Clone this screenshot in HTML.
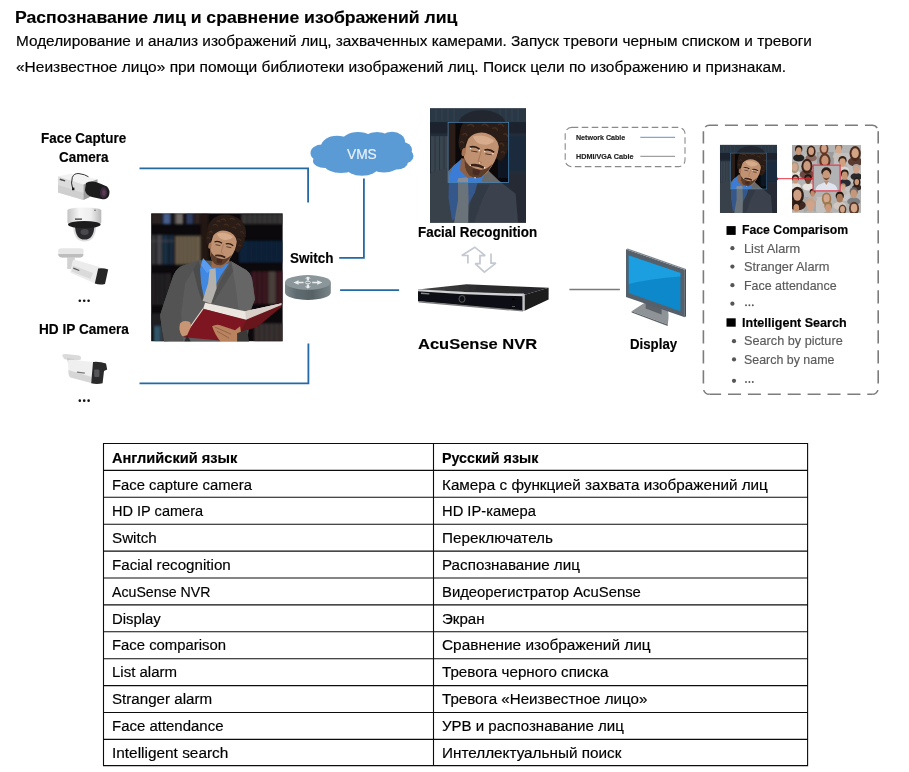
<!DOCTYPE html>
<html lang="ru"><head><meta charset="utf-8"><title>Face recognition</title>
<style>
html,body{margin:0;padding:0;background:#fff;}
body{width:909px;height:772px;position:relative;overflow:hidden;font-family:"Liberation Sans",sans-serif;}
.t{position:absolute;white-space:nowrap;line-height:normal;transform-origin:0 50%;display:block;-webkit-text-stroke:0.16px currentColor;}
svg{position:absolute;left:0;top:0;}
</style></head><body>
<svg width="909" height="772" viewBox="0 0 909 772">
<defs>
<filter id="b0" x="-10%" y="-10%" width="120%" height="120%"><feGaussianBlur stdDeviation="0.35"/></filter>
<filter id="b1" x="-5%" y="-5%" width="110%" height="110%"><feGaussianBlur stdDeviation="0.6"/></filter>
<filter id="b2" x="-5%" y="-5%" width="110%" height="110%"><feGaussianBlur stdDeviation="1.2"/></filter>
<filter id="b3" x="-5%" y="-5%" width="110%" height="110%"><feGaussianBlur stdDeviation="2"/></filter>
<g id="head" transform="rotate(11 50 44)">
<!-- hair -->
<path d="M26.5 30 Q25 12 40 5 Q52 0.5 64 5 Q79 12 77.5 30 Q76 40 52 41 Q28 40 26.5 30 Z" fill="#2a1a12"/>
<path d="M27 28 Q25 40 31 47 L35 46 Q33 36 36 30 Z" fill="#2a1a12"/>
<path d="M77 28 Q79 40 72 49 L67 47 Q69 38 67 30 Z" fill="#2a1a12"/>
<g fill="none" stroke="#4a3224" stroke-width="1.6" stroke-linecap="round" opacity="0.8">
<path d="M33 20 q3 -3 6 0 M42 11 q3 -3 6 0 M53 8 q3 -3 6 0 M63 13 q3 -2 5 1 M70 22 q2 -2 4 1 M30 30 q2 -3 4 0 M47 17 q3 -3 6 0 M58 18 q3 -2 5 1 M37 14 q2 -2 4 0 M68 32 q2 -2 4 1 M71 40 q1 -2 3 0 M29 38 q1 -2 3 0"/>
</g>
<!-- face -->
<path d="M36 33 Q41 24 52 24 Q64 25 67.5 35 Q68.5 46 64 56 Q59 69 50 70.5 Q41 70 36.5 58 Q33 46 36 33 Z" fill="#c09272"/>
<path d="M40 30 Q50 24.5 62 30 Q58 36 50 36 Q44 36 40 30 Z" fill="#d6ac8c"/>
<ellipse cx="34" cy="47" rx="2" ry="4.2" fill="#a87454"/>
<!-- beard / stubble -->
<path d="M35.6 52 Q37 64 44 69 Q50 72 56 68 Q62 62 64.5 53 Q60 60 54 61 Q44 62 38 56 Z" fill="#5c3c2a"/>
<path d="M43 57.5 Q50 54.5 57 57.5 L56.4 59.6 Q50 57.6 43.6 59.6 Z" fill="#3a2018"/>
<path d="M46 62 Q50 61 54 62 L53 67 Q50 68 47 67 Z" fill="#4a2c20"/>
<!-- brows/eyes -->
<path d="M39 41 Q44 38.5 49 41" stroke="#2e1c12" stroke-width="1.7" fill="none"/>
<path d="M54 41 Q59 38.5 64 41.5" stroke="#2e1c12" stroke-width="1.7" fill="none"/>
<path d="M41 44.4 L47.5 44.4 M55.5 44.4 L62 44.4" stroke="#4a2e22" stroke-width="1" fill="none"/>
<path d="M51 42 L50 53 L53.6 54" stroke="#a8785a" stroke-width="1.1" fill="none"/>
</g>
<!-- face recognition image (symbol reused) -->
<symbol id="faceimg" viewBox="0 0 96 114.6" preserveAspectRatio="none">
<clipPath id="cpF"><rect x="0" y="0" width="96" height="114.6"/></clipPath>
<clipPath id="cpBox"><rect x="18.1" y="14.1" width="60.6" height="60.3"/></clipPath>
<g clip-path="url(#cpF)">
<rect width="96" height="114.6" fill="#232d39"/>
<g filter="url(#b1)">
<rect x="0" y="0" width="96" height="14" fill="#2b3744"/>
<rect x="0" y="14" width="96" height="11" fill="#1a232e"/>
<rect x="1" y="28" width="17" height="36" fill="#39444f"/>
<g stroke="#2a333e" stroke-width="1"><path d="M5 28V64M9.5 28V64M14 28V64"/></g>
<rect x="79" y="28" width="17" height="34" fill="#1a2a3e"/>
<rect x="79" y="66" width="17" height="49" fill="#262c34"/>
<g stroke="#344250" stroke-width="1"><path d="M6 0V13M12 0V13M18 0V13M24 0V13M70 0V13M76 0V13M82 0V13M88 0V13"/></g>
<!-- dimmed hair top -->
<ellipse cx="52" cy="17" rx="24" ry="15" fill="#23272d"/>
<!-- suit dimmed -->
<path d="M0 65 L19 59 L30 52 L58 60 L69 72.5 L85.6 85.6 L88 115 L0 115 Z" fill="#3b434d"/>
<path d="M0 65 L19 59 L22 80 L20 115 L0 115 Z" fill="#373f49"/>
<path d="M46 76 L40 96 L36 115 L44 115 L52 92 L60 76 Z" fill="#333b45"/>
<!-- shirt dimmed -->
<path d="M19 62 L30 56 L50 66 L45 84 L33 106 L22 112 L18.5 90 Z" fill="#35588c"/>
<!-- tie dimmed -->
<path d="M28 72 L38 71 L38.6 90 L38.2 115 L24 115 L28 92 Z" fill="#6a727a"/>
</g>
<!-- undimmed inside box -->
<g clip-path="url(#cpBox)">
<rect x="18.1" y="14.1" width="60.6" height="60.3" fill="#0a0808"/>
<g filter="url(#b1)">
<rect x="18" y="14" width="7.5" height="48" fill="#2c1d16"/>
<rect x="68" y="44" width="11" height="26" fill="#0b1320"/>
<!-- suit -->
<path d="M18 63 L24 57 L32 52 L56 60 L69 72.5 L80 80 L18 80 Z" fill="#6a6a6a"/>
<!-- shirt -->
<path d="M19 67 L23 58 L31 51 L40 58 L55 63 L50 78 L19 78 Z" fill="#3b7cd6"/>
<path d="M28 70 L38 69 L38 78 L27 78 Z" fill="#8a8e94"/>
<!-- neck -->
<path d="M31 50 L30 62 L38 70 L50 66 L56 52 Z" fill="#8e6044"/>
<use href="#head"/>
<g transform="rotate(11 50 44)"><g fill="#fff" opacity="0.9"><circle cx="40" cy="42" r="0.7"/><circle cx="49" cy="42.5" r="0.7"/><circle cx="54.5" cy="42.5" r="0.7"/><circle cx="63" cy="43" r="0.7"/><circle cx="43" cy="58.6" r="0.7"/><circle cx="57.6" cy="58.4" r="0.7"/><circle cx="51.6" cy="54.6" r="0.6"/><circle cx="50" cy="70" r="0.7"/></g>
</g>
</g>
</g>
<rect x="18.1" y="14.1" width="60.6" height="60.3" fill="none" stroke="#4f8fc4" stroke-width="0.7"/>
</g>
</symbol>

</defs>
<!-- network lines -->
<g fill="none" stroke="#2469a6" stroke-width="1.8">
<path d="M139.5 168.3H308.1V202.5"/>
<path d="M139.5 383.3H308.4V343.6"/>
<path d="M363.9 178.4V257.9H339.2"/>
<path d="M340.1 290.2H399.1"/>
</g>
<path d="M569.4 289.5H619.9" stroke="#7a7a7a" stroke-width="1.6" fill="none"/>
<!-- cloud -->
<g fill="#5b9bd5">
<ellipse cx="322" cy="153" rx="11.5" ry="8.5"/>
<ellipse cx="325" cy="161" rx="12" ry="7"/>
<ellipse cx="337" cy="146.6" rx="16" ry="10.8"/>
<ellipse cx="358" cy="142.6" rx="17" ry="10.5"/>
<ellipse cx="377" cy="141.4" rx="15" ry="9.5"/>
<ellipse cx="392" cy="141.8" rx="13" ry="10"/>
<ellipse cx="402" cy="150" rx="10" ry="8"/>
<ellipse cx="404" cy="156" rx="9.5" ry="7.5"/>
<ellipse cx="397" cy="162" rx="11" ry="7.5"/>
<ellipse cx="384" cy="166" rx="14" ry="6.5"/>
<ellipse cx="362" cy="167.2" rx="16" ry="8.6"/>
<ellipse cx="341" cy="165.5" rx="16" ry="7.5"/>
<ellipse cx="362" cy="155" rx="40" ry="12"/>
</g>
<!-- legend box -->
<rect x="565.2" y="127.4" width="119.8" height="39.2" rx="6.5" fill="none" stroke="#8a8a8a" stroke-width="1.1" stroke-dasharray="6.6 3.4"/>
<path d="M640.3 137.3H675.1" stroke="#3f7fbf" stroke-width="0.85"/>
<path d="M640.3 156.3H675.1" stroke="#7a7a7a" stroke-width="0.9"/>
<!-- right dashed box -->
<g fill="none" stroke="#7c7c7c" stroke-width="1.6">
<path d="M703.4 131.3A6 6 0 0 1 709.4 125.3H872.2A6 6 0 0 1 878.2 131.3" stroke-dasharray="13 7" stroke-dashoffset="15.28"/>
<path d="M703.4 131.3V388.3A6 6 0 0 0 709.4 394.3" stroke-dasharray="13.2 6.8" stroke-dashoffset="1.1"/>
<path d="M878.2 131.3V388.3A6 6 0 0 1 872.2 394.3" stroke-dasharray="13.2 6.8" stroke-dashoffset="1.1"/>
<path d="M709.4 394.3H872.2" stroke-dasharray="13 6.9" stroke-dashoffset="1.3"/>
</g>
<!-- bullets -->
<g fill="#000"><rect x="726.5" y="226.1" width="9.2" height="8.8"/><rect x="726.5" y="318.3" width="9.2" height="8.4"/></g>
<g fill="#555">
<circle cx="732.4" cy="248.2" r="2.1"/><circle cx="732.4" cy="266.6" r="2.1"/><circle cx="732.4" cy="285.2" r="2.1"/><circle cx="732.4" cy="303.7" r="2.1"/>
<circle cx="734" cy="341.2" r="2.1"/><circle cx="734" cy="359.4" r="2.1"/><circle cx="734" cy="380.8" r="2.1"/>
<circle cx="746" cy="305.2" r="0.95"/><circle cx="749.4" cy="305.2" r="0.95"/><circle cx="752.8" cy="305.2" r="0.95"/>
<circle cx="746" cy="382" r="0.95"/><circle cx="749.4" cy="382" r="0.95"/><circle cx="752.8" cy="382" r="0.95"/>
</g>
<g fill="#111">
<circle cx="79.8" cy="300.7" r="1.3"/><circle cx="84.2" cy="300.7" r="1.3"/><circle cx="88.6" cy="300.7" r="1.3"/>
<circle cx="79.8" cy="400.65" r="1.3"/><circle cx="84.2" cy="400.65" r="1.3"/><circle cx="88.6" cy="400.65" r="1.3"/>
</g>
<!-- main photo: man reading book -->
<clipPath id="cpA"><rect x="0" y="0" width="131.7" height="128.2"/></clipPath>
<g transform="translate(151.1,213.2)" clip-path="url(#cpA)">
<rect x="0" y="0" width="131.7" height="128.2" fill="#0b090b"/>
<g filter="url(#b2)" opacity="0.78">
<!-- top row books -->
<rect x="0" y="0" width="11" height="11" fill="#352c2c"/>
<rect x="12" y="0" width="7" height="11" fill="#5676b0"/>
<rect x="19" y="0" width="5" height="11" fill="#1c1a22"/>
<rect x="24.5" y="0" width="7.5" height="11" fill="#8a837e"/>
<rect x="35" y="0" width="7" height="11" fill="#384a74"/>
<rect x="43" y="0" width="6" height="11" fill="#3a2a26"/>
<rect x="90" y="0.5" width="42" height="10.5" fill="#454242"/>
<g stroke="#2a2828" stroke-width="0.8"><path d="M96 0V11M101 0V11M106 0V11M111 0V11M116 0V11M121 0V11M126 0V11"/></g>
<!-- row 2 left -->
<rect x="0" y="21.5" width="4.5" height="30" fill="#44444a"/>
<rect x="5.5" y="21.5" width="5.5" height="30" fill="#55555c"/>
<rect x="11.5" y="21.5" width="5.5" height="30" fill="#1b3a52"/>
<rect x="17.5" y="21.5" width="5.5" height="30" fill="#1a3048"/>
<rect x="24" y="22.5" width="25.5" height="29" fill="#85755c"/>
<g stroke="#5e5242" stroke-width="0.9"><path d="M28 22V52M32 22V52M36 22V52M40 22V52M44 22V52"/></g>
<rect x="0" y="27" width="23" height="1.6" fill="#6a6a70" opacity="0.5"/>
<!-- divider -->
<rect x="49.5" y="0" width="8" height="60" fill="#2a1b15"/>
<!-- row 2 right navy -->
<rect x="88" y="27.5" width="44" height="22" fill="#0f2b4a"/>
<g stroke="#08182c" stroke-width="0.8"><path d="M98 27V50M103 27V50M108 27V50M113 27V50M118 27V50M123 27V50M128 27V50"/></g>
<!-- row 3 -->
<rect x="0" y="60" width="20" height="32" fill="#2a282c"/>
<g stroke="#16151a" stroke-width="0.9"><path d="M4 60V92M8.5 60V92M13 60V92"/></g>
<rect x="100" y="58" width="32" height="33" fill="#481a28"/>
<g stroke="#2a0e18" stroke-width="1"><path d="M106 58V91M111 58V91M116 58V91M126 58V91"/></g>
<rect x="117.5" y="58" width="7" height="33" fill="#5c5048"/>
<!-- row 4 -->
<rect x="0" y="100" width="16" height="13" fill="#26262a"/>
<rect x="2.5" y="113" width="7" height="16" fill="#3c6c84"/>
<rect x="10" y="113" width="6" height="16" fill="#4a4648"/>
<rect x="103" y="110" width="29" height="19" fill="#463c3c"/>
<g stroke="#2a2424" stroke-width="0.9"><path d="M108 110V129M113 110V129M118 110V129M123 110V129M128 110V129"/></g>
</g>
<g filter="url(#b1)">
<!-- suit -->
<path d="M48 47 L30 53 Q24 56 21 66 L12.5 91 L9 102 L11 116 L13.5 129 L96 129 L100 96 L103.8 86 L101 66 Q99 58 92 55 L80 48 Z" fill="#5c5c5c"/>
<path d="M48 47 L30 53 Q24 56 21 66 L12.5 91 L9 102 L11 116 L13.5 129 L32 129 L30 100 L34 70 Z" fill="#525252"/>
<path d="M80 48 L92 55 Q99 58 101 66 L103.8 86 L100 96 L88 100 L84 70 Z" fill="#666666"/>
<!-- lapel shadows -->
<path d="M48 47 L42 56 L47 76 L51 88 L54 82 L50 60 Z" fill="#4c4c4c"/>
<path d="M80 48 L82 58 L72 74 L62 90 L60 88 L68 70 Z" fill="#515151"/>
<!-- shirt -->
<path d="M52 45 L49 56 L50 70 L53 86 L60 80 L70 62 L78 50 L70 52 L60 54 Z" fill="#3f88e2"/>
<path d="M52 45 L50 52 L56 60 L61 55 Z" fill="#5a9cf0"/>
<!-- tie -->
<path d="M58.5 56 L64.5 55 L65.5 75 L60 90.5 L51.5 87.5 L57 70 Z" fill="#b4b0ac"/>
<!-- neck -->
<path d="M62 42 L60 54 L70 55 L78 48 L80 40 Z" fill="#9a6a4c"/>
<use href="#head" transform="translate(33,-1.2) scale(0.765)"/>
<!-- book pages -->
<path d="M54 89.5 L94 98 L130.5 90 L130 92.5 L95 107 L52 95.5 Z" fill="#ece6e0"/>
<path d="M94 98 L130.5 90 L130 92.5 L95 107 Z" fill="#d8d0c8"/>
<!-- book cover -->
<path d="M52 95.5 L95 106.5 L88 129 L33 124 L35 119.5 Z" fill="#7e1821"/>
<path d="M95 106.5 L131 91.5 L130 94 L106 114 L89 119 Z" fill="#68131a"/>
<path d="M52 95.5 L35 119.5 L33.5 122" stroke="#e8dcd4" stroke-width="1.1" fill="none"/>
<!-- hands -->
<path d="M29 110 Q33 106 39 109 L40 113 L36 122 L31 123 Q27 117 29 110 Z" fill="#c99674"/>
<path d="M61 113 Q66 110 72 113 L84 117 L89 113 L90 120 L86 129 L70 129 Q64 122 61 113 Z" fill="#b9835f"/>
<path d="M64 114 L80 121 M66 118 L78 125" stroke="#8a5a40" stroke-width="0.8" fill="none"/>
<path d="M36 122 L33 129 L40 129 Z" fill="#2a2a2a"/>
<path d="M86 120 L96 116 L98 129 L86 129 Z" fill="#3a3838"/>
</g>
</g>

<clipPath id="cpC"><rect x="0" y="0" width="69.2" height="68"/></clipPath>
<g transform="translate(791.9,144.9)" clip-path="url(#cpC)">
<rect width="69.2" height="68" fill="#b4b4b4"/>
<g filter="url(#b1)">
<rect x="0" y="0" width="10" height="12" fill="#a8a8a8"/>
<rect x="25" y="7" width="17" height="12" fill="#9c9c9c"/>
<rect x="5" y="10" width="16" height="16" fill="#bcbcbc"/>
<rect x="42" y="8" width="16" height="12" fill="#c0c0c0"/>
<rect x="8" y="25" width="14" height="10" fill="#a4a4a4"/>
<rect x="55" y="20" width="14" height="18" fill="#bebebe"/>
<rect x="46" y="40" width="12" height="16" fill="#c4c4c4"/>
<rect x="12" y="52" width="14" height="16" fill="#a6a6a6"/>
<rect x="24" y="52" width="14" height="16" fill="#c2c2c2"/>
<ellipse cx="6.82" cy="13.03" rx="5.74" ry="3.56" fill="#242424"/><ellipse cx="6.82" cy="4.11" rx="3.64" ry="3.76" fill="#2a1c14"/><ellipse cx="6.82" cy="6.21" rx="2.85" ry="3.88" fill="#c89878"/>
<ellipse cx="19.25" cy="13.03" rx="5.74" ry="3.56" fill="#8a6a60"/><ellipse cx="19.25" cy="6.49" rx="4.44" ry="5.94" fill="#3a241a"/><ellipse cx="19.25" cy="6.21" rx="2.85" ry="3.88" fill="#cfa080"/>
<ellipse cx="32.12" cy="10.50" rx="5.74" ry="3.56" fill="#b0a8a0"/><ellipse cx="32.12" cy="3.96" rx="4.44" ry="5.94" fill="#6a3a28"/><ellipse cx="32.12" cy="3.68" rx="2.85" ry="3.88" fill="#d0a084"/>
<ellipse cx="46.75" cy="11.38" rx="5.74" ry="3.56" fill="#c8c0b8"/><ellipse cx="46.75" cy="2.46" rx="3.64" ry="3.76" fill="#8a6a50"/><ellipse cx="46.75" cy="4.56" rx="2.85" ry="3.88" fill="#d4a888"/>
<ellipse cx="63.26" cy="16.90" rx="7.27" ry="4.51" fill="#5a3a30"/><ellipse cx="63.26" cy="8.62" rx="5.62" ry="7.52" fill="#4a2c1e"/><ellipse cx="63.26" cy="8.27" rx="3.61" ry="4.92" fill="#d2a486"/>
<ellipse cx="2.75" cy="28.98" rx="5.74" ry="3.56" fill="#e0dcd8"/><ellipse cx="2.75" cy="22.44" rx="4.44" ry="5.94" fill="#a89880"/><ellipse cx="2.75" cy="22.17" rx="2.85" ry="3.88" fill="#d0a890"/>
<ellipse cx="15.07" cy="29.66" rx="7.27" ry="4.51" fill="#6a4a40"/><ellipse cx="15.07" cy="21.39" rx="5.62" ry="7.52" fill="#3a2218"/><ellipse cx="15.07" cy="21.03" rx="3.61" ry="4.92" fill="#cc9c80"/>
<ellipse cx="33.00" cy="24.16" rx="7.27" ry="4.51" fill="#7a5a50"/><ellipse cx="33.00" cy="15.89" rx="5.62" ry="7.52" fill="#5a3424"/><ellipse cx="33.00" cy="15.53" rx="3.61" ry="4.92" fill="#c89474"/>
<ellipse cx="50.61" cy="25.36" rx="6.51" ry="4.04" fill="#d8d4d0"/><ellipse cx="50.61" cy="15.26" rx="4.13" ry="4.26" fill="#3a2416"/><ellipse cx="50.61" cy="17.64" rx="3.23" ry="4.40" fill="#d0a080"/>
<ellipse cx="64.36" cy="31.73" rx="5.74" ry="3.56" fill="#2a2a2c"/><ellipse cx="64.36" cy="22.82" rx="3.64" ry="3.76" fill="#b0a8a0"/><ellipse cx="64.36" cy="24.92" rx="2.85" ry="3.88" fill="#d0a48c"/>
<ellipse cx="3.52" cy="41.46" rx="5.36" ry="3.33" fill="#e4e0dc"/><ellipse cx="3.52" cy="33.14" rx="3.40" ry="3.51" fill="#2a1c16"/><ellipse cx="3.52" cy="35.10" rx="2.66" ry="3.62" fill="#c8987c"/>
<ellipse cx="16.17" cy="41.96" rx="5.74" ry="3.56" fill="#e8e4e0"/><ellipse cx="16.17" cy="33.05" rx="3.64" ry="3.76" fill="#1a1210"/><ellipse cx="16.17" cy="35.15" rx="2.85" ry="3.88" fill="#6a4634"/>
<ellipse cx="52.81" cy="38.06" rx="6.13" ry="3.80" fill="#2c2c30"/><ellipse cx="52.81" cy="28.55" rx="3.89" ry="4.01" fill="#2a1c14"/><ellipse cx="52.81" cy="30.79" rx="3.04" ry="4.14" fill="#c49474"/>
<ellipse cx="64.91" cy="42.65" rx="4.59" ry="2.85" fill="#3a2a28"/><ellipse cx="64.91" cy="37.43" rx="3.55" ry="4.75" fill="#2a1a14"/><ellipse cx="64.91" cy="37.20" rx="2.28" ry="3.10" fill="#c89878"/>
<ellipse cx="51.16" cy="47.65" rx="4.21" ry="2.61" fill="#c0b8b0"/><ellipse cx="51.16" cy="41.12" rx="2.67" ry="2.76" fill="#b09070"/><ellipse cx="51.16" cy="42.66" rx="2.09" ry="2.85" fill="#d4a88c"/>
<ellipse cx="5.50" cy="60.21" rx="8.42" ry="5.23" fill="#3a2820"/><ellipse cx="5.50" cy="50.63" rx="6.51" ry="8.71" fill="#2e1c14"/><ellipse cx="5.50" cy="50.22" rx="4.18" ry="5.69" fill="#d0a084"/>
<ellipse cx="20.68" cy="54.09" rx="4.59" ry="2.85" fill="#b8b0a8"/><ellipse cx="20.68" cy="46.97" rx="2.91" ry="3.01" fill="#2a1a12"/><ellipse cx="20.68" cy="48.65" rx="2.28" ry="3.10" fill="#c08c6c"/>
<ellipse cx="34.65" cy="60.83" rx="6.13" ry="3.80" fill="#c8c0b8"/><ellipse cx="34.65" cy="53.86" rx="4.73" ry="6.34" fill="#a07850"/><ellipse cx="34.65" cy="53.57" rx="3.04" ry="4.14" fill="#d4a88c"/>
<ellipse cx="47.85" cy="61.00" rx="6.51" ry="4.04" fill="#d0c8c0"/><ellipse cx="47.85" cy="50.90" rx="4.13" ry="4.26" fill="#1c1410"/><ellipse cx="47.85" cy="53.28" rx="3.23" ry="4.40" fill="#a87858"/>
<ellipse cx="61.83" cy="56.60" rx="6.51" ry="4.04" fill="#7a7e82"/><ellipse cx="61.83" cy="46.50" rx="4.13" ry="4.26" fill="#6a6460"/><ellipse cx="61.83" cy="48.88" rx="3.23" ry="4.40" fill="#c49878"/>
<ellipse cx="4.40" cy="69.90" rx="5.74" ry="3.56" fill="#c8c4c0"/><ellipse cx="4.40" cy="60.99" rx="3.64" ry="3.76" fill="#2a1c14"/><ellipse cx="4.40" cy="63.09" rx="2.85" ry="3.88" fill="#c4906e"/>
<ellipse cx="18.70" cy="70.21" rx="7.66" ry="4.75" fill="#b8b4b0"/><ellipse cx="18.70" cy="58.33" rx="4.86" ry="5.02" fill="#c8a088"/><ellipse cx="18.70" cy="61.13" rx="3.80" ry="5.17" fill="#d0a48a"/>
<ellipse cx="36.30" cy="70.40" rx="6.13" ry="3.80" fill="#b0a8a0"/><ellipse cx="36.30" cy="60.90" rx="3.89" ry="4.01" fill="#9a7a50"/><ellipse cx="36.30" cy="63.14" rx="3.04" ry="4.14" fill="#c89878"/>
<ellipse cx="50.61" cy="70.33" rx="4.98" ry="3.09" fill="#b8a8a0"/><ellipse cx="50.61" cy="64.66" rx="3.84" ry="5.15" fill="#5a3a28"/><ellipse cx="50.61" cy="64.42" rx="2.47" ry="3.36" fill="#d0a488"/>
<ellipse cx="62.16" cy="70.90" rx="6.51" ry="4.04" fill="#c0b0a8"/><ellipse cx="62.16" cy="63.50" rx="5.03" ry="6.73" fill="#5a3826"/><ellipse cx="62.16" cy="63.18" rx="3.23" ry="4.40" fill="#d4a88c"/>
</g>
<rect x="21.2" y="20.2" width="27" height="25.8" fill="#b2b2b4"/>
<g filter="url(#b1)">
<path d="M23.5 45.8 Q24 40 29 39 L33 37 L36 37 L41 39 Q45 40 45.8 45.8 Z" fill="#dfe4ee"/>
<path d="M32 36 L34.5 40 L37 36 Z" fill="#b88a6c"/>
<ellipse cx="34.4" cy="27" rx="5" ry="4.6" fill="#2a1a12"/>
<ellipse cx="34.4" cy="30.6" rx="4" ry="5.4" fill="#c8987a"/>
<path d="M31 32 Q34.4 38 37.8 32 Q34.4 35 31 32Z" fill="#4a2e22"/>
</g>
<rect x="21.2" y="20.2" width="27" height="25.8" fill="none" stroke="#d83444" stroke-width="1.1"/>
</g>
<path d="M776.8 178.7H813.1" stroke="#e02030" stroke-width="0.9"/><circle cx="776.9" cy="178.7" r="1.5" fill="#e02030"/>
<!-- gradients -->
<linearGradient id="gDome" x1="0" x2="1" y1="0" y2="0"><stop offset="0" stop-color="#c4c4c4"/><stop offset="0.35" stop-color="#f6f6f6"/><stop offset="0.7" stop-color="#ededed"/><stop offset="1" stop-color="#b8b8b8"/></linearGradient>
<linearGradient id="gSw" x1="0" x2="1" y1="0" y2="0"><stop offset="0" stop-color="#7c878b"/><stop offset="0.25" stop-color="#5f6b70"/><stop offset="0.6" stop-color="#566266"/><stop offset="1" stop-color="#7a8589"/></linearGradient>
<linearGradient id="gScr" x1="0" x2="0" y1="0" y2="1"><stop offset="0" stop-color="#1fa0e2"/><stop offset="0.5" stop-color="#159ad8"/><stop offset="0.52" stop-color="#0c86c8"/><stop offset="1" stop-color="#0f8ccc"/></linearGradient>
<!-- box camera -->
<g filter="url(#b1)">
<path d="M58 176.2 L72 173.6 L97.5 179.2 L83.5 184.6 Z" fill="#f2f2f2"/>
<path d="M58 176.2 L83.5 184.6 L83.5 200 L58 192.6 Z" fill="#dcdcdc"/>
<path d="M58 185 L83.5 193 L83.5 200 L58 192.6 Z" fill="#cfcfcf"/>
<path d="M83.5 184.6 L97.5 179.2 L97.5 193.5 L83.5 200 Z" fill="#9c9c9c"/>
<path d="M86 183 Q92 180 100 183.5 L107 186.5 Q110.5 190 109 195.5 Q107 200 102.5 199.2 L92 197 Q85.5 195 85 190 Z" fill="#1c1c1e"/>
<ellipse cx="103.6" cy="192.6" rx="3.6" ry="5.6" fill="#3a2a3e"/>
<ellipse cx="103.9" cy="192.8" rx="1.8" ry="3" fill="#5a3a52"/>
<path d="M72.8 189 Q70.5 183 72.3 177.5 Q74 173 79 173.6 Q85 174.4 88.5 176.8" fill="none" stroke="#1a1a1a" stroke-width="0.9"/>
<rect x="72" y="187.6" width="2.4" height="2.6" fill="#1a1a1a"/>
<rect x="60" y="178.6" width="5.6" height="1.4" fill="#4a4a4a" transform="rotate(17 60 178.6)"/>
</g>
<!-- dome camera -->
<g filter="url(#b1)">
<path d="M73.2 226 Q73.5 241.4 84.5 241.4 Q95.8 241.4 96.2 226 Z" fill="#dcdcdc"/>
<path d="M75 226 Q75.5 239.6 84.6 239.6 Q93.8 239.6 94.4 226 Z" fill="#2c2c2e"/>
<path d="M67.4 210.5 Q67.4 207.6 84.3 207.4 Q101.3 207.6 101.3 210.5 L101.3 222 Q101 226.5 84.3 227 Q67.6 226.5 67.4 222 Z" fill="url(#gDome)"/>
<ellipse cx="84.3" cy="224.6" rx="16.3" ry="3.6" fill="#1c1c1e"/>
<ellipse cx="84.6" cy="232" rx="4" ry="3" fill="#4a4a4e"/>
<rect x="75" y="218.4" width="7" height="1.5" fill="#555"/>
<circle cx="95" cy="210.3" r="0.8" fill="#666"/>
</g>
<!-- bullet camera with mount -->
<g filter="url(#b1)">
<rect x="67.2" y="255" width="7.6" height="14" fill="#d2d2d2"/>
<path d="M58.2 250.5 Q58.2 248.2 62 248.2 L80 248.2 Q83.6 248.2 83.6 250.5 L83.3 255 Q83 257.4 80 257.4 L62 257.4 Q58.8 257.4 58.4 255 Z" fill="#e6e6e6"/>
<path d="M58.4 254 L83.4 254 L83.3 255 Q83 257.4 80 257.4 L62 257.4 Q58.8 257.4 58.4 255 Z" fill="#bdbdbd"/>
<path d="M72.8 260.4 Q73.4 259.4 75 259.8 L101.5 267.6 L95 283.6 L71 273 Q70 272.4 70.4 271 Z" fill="#ececec"/>
<path d="M73 265.5 L93 273 L90.5 279 L71.6 271.4 Z" fill="#dadada"/>
<path d="M98.2 268.6 Q103 267.4 108.2 269.6 L105 284 Q100 285.4 94.8 283.6 Z" fill="#262628"/>
<rect x="73.5" y="267.6" width="6.4" height="1.2" fill="#555" transform="rotate(21 73.5 267.6)"/>
</g>
<!-- HD IP bullet -->
<g filter="url(#b1)">
<path d="M62.2 355.4 Q62.6 353.8 66 354 L79 355.4 Q81.4 356 81 358 L80.6 359.8 L72 361 L64 359 Z" fill="#dadada"/>
<path d="M67 358 L74 359 L74 364 L68 363 Z" fill="#c8c8c8"/>
<path d="M68 360.6 Q69 359.4 72 359.8 L93 362 L91.4 383 L70.6 377.4 Q68.8 376.6 68.6 374 Z" fill="#efefef"/>
<path d="M68.4 370 L91.8 377 L91.4 383 L70.6 377.4 Q68.8 376.6 68.6 374 Z" fill="#d6d6d6"/>
<path d="M93 362 Q100 361.4 106 363.6 L107.2 369.4 L104 371 L102.6 383.2 Q97 384.8 91.2 383.2 Z" fill="#2a2a2c"/>
<rect x="94.2" y="369.4" width="5.2" height="7.6" rx="1" fill="#55555a"/>
<rect x="77" y="371.4" width="8" height="1.3" fill="#777" transform="rotate(8 77 371.4)"/>
</g>
<!-- switch -->
<g filter="url(#b1)">
<path d="M285 282.4 L285 292.6 A22.9 7.3 0 0 0 330.8 292.6 L330.8 282.4 Z" fill="url(#gSw)"/>
<ellipse cx="307.9" cy="282.4" rx="22.9" ry="7.3" fill="#8b969a"/>
<g fill="#e8ecee" stroke="none">
<path d="M307.9 276.4 L311 278.6 L309 278.6 L309 280.4 L306.8 280.4 L306.8 278.6 L304.8 278.6 Z"/>
<path d="M307.9 288.6 L311 286.4 L309 286.4 L309 284.6 L306.8 284.6 L306.8 286.4 L304.8 286.4 Z"/>
<path d="M293.4 282.5 L298.6 280.3 L298.6 281.7 L303.6 281.7 L303.6 283.3 L298.6 283.3 L298.6 284.7 Z"/>
<path d="M322.4 282.5 L317.2 280.3 L317.2 281.7 L312.2 281.7 L312.2 283.3 L317.2 283.3 L317.2 284.7 Z"/>
</g>
<ellipse cx="307.9" cy="282.5" rx="2.6" ry="1.3" fill="none" stroke="#e8ecee" stroke-width="0.9"/>
</g>
<!-- arrows -->
<path d="M467.9 263.6 L467.9 255.5 L461.8 255.5 L474.8 247.2 L485.2 255.7 L480 255.7 L480 263.6 L475.2 263.6 L484.4 272.1 L495.9 263.1 L491 263.1 L491 253.5" fill="none" stroke="#c3c8d1" stroke-width="1.7" stroke-linejoin="miter" stroke-miterlimit="1.6" filter="url(#b0)"/>
<!-- NVR -->
<linearGradient id="gTop" x1="0" x2="1" y1="0" y2="0"><stop offset="0" stop-color="#454547"/><stop offset="0.45" stop-color="#2c2c2e"/><stop offset="1" stop-color="#262628"/></linearGradient>
<g filter="url(#b1)">
<path d="M418 289.6 L466.6 284.2 L548.6 287.8 L524 295 Z" fill="url(#gTop)"/>
<path d="M524 295 L548.6 287.8 L548.6 299.6 L524 311 Z" fill="#1c1c1e"/>
<path d="M418 289.6 L524 295 L524 311 L418 301.2 Z" fill="#111113"/>
<path d="M418 289.2 Q470 293 524 293.6 L524 296.2 Q470 295.4 418 291.2 Z" fill="#d2d2d4"/>
<path d="M522.4 294 L524.8 294 L524.8 311 L522.4 310.8 Z" fill="#c4c4c6"/>
<path d="M418.6 301 L523 310.2 L523 311.6 L418.6 302.4 Z" fill="#7e7e80"/>
<ellipse cx="462" cy="298.9" rx="3" ry="3.4" fill="none" stroke="#66666a" stroke-width="0.8"/>
<circle cx="513.4" cy="299.4" r="1.4" fill="#050505"/>
<rect x="421" y="292.6" width="8.4" height="1.3" fill="#8a8a8c" transform="rotate(4 421 292.6)"/>
<rect x="512" y="306" width="3" height="0.8" fill="#666"/>
</g>
<!-- monitor -->
<g filter="url(#b1)">
<path d="M631.6 311.2 L645 302.6 L667 308 Q669.6 313 667.8 324.6 Z" fill="#8e9398"/>
<path d="M631.6 311.2 L667.8 324.6 L667.6 326 L631.6 312.6 Z" fill="#5e6469"/>
<path d="M645.6 303 L661.6 308.6 L661.6 314.6 L645.6 308.6 Z" fill="#5c6268"/>
<path d="M626 249.2 L684.8 269.8 L684.8 317.2 L626 297 Z" fill="#56616b"/>
<path d="M626 249.2 L627.6 248.4 L686 269 L684.8 269.8 Z" fill="#7c868e"/>
<path d="M684.8 269.8 L686 269 L686 316.2 L684.8 317.2 Z" fill="#454e56"/>
<path d="M628.8 255.4 L680.4 273 L680.4 311.2 L628.8 293 Z" fill="#0e88ca"/>
<path d="M628.8 255.4 L680.4 273 L680.4 276.6 Q650 279 628.8 284 Z" fill="#1d9fe0"/>
</g>

<use href="#faceimg" x="430" y="108.2" width="96" height="114.6"/>
<use href="#faceimg" x="719.9" y="144.7" width="57.2" height="68.2"/>

<path d="M102.95 443.50H808.15M102.95 470.40H808.15M102.95 497.30H808.15M102.95 524.20H808.15M102.95 551.10H808.15M102.95 578.00H808.15M102.95 604.90H808.15M102.95 631.80H808.15M102.95 658.70H808.15M102.95 685.60H808.15M102.95 712.50H808.15M102.95 739.40H808.15M102.95 765.60H808.15M103.50 443.50V765.60M433.50 443.50V765.60M807.60 443.50V765.60" stroke="#0c0c0c" stroke-width="1.1" fill="none"/></svg>

<span class="t" id="h1" style="left:15.27px;top:7px;font-size:17.14px;color:#000;font-weight:bold;transform:scaleX(1.0279);">Распознавание лиц и сравнение изображений лиц</span><span class="t" id="p1" style="left:15.74px;top:33px;font-size:14.29px;color:#000;transform:scaleX(1.0749);">Моделирование и анализ изображений лиц, захваченных камерами. Запуск тревоги черным списком и тревоги</span><span class="t" id="p2" style="left:15.54px;top:59px;font-size:14.29px;color:#000;transform:scaleX(1.0842);">«Неизвестное лицо» при помощи библиотеки изображений лиц. Поиск цели по изображению и признакам.</span><span class="t" id="d1" style="left:40.98px;top:131px;font-size:13.71px;color:#000;font-weight:bold;transform:scaleX(0.9807);">Face Capture</span><span class="t" id="d2" style="left:58.78px;top:150px;font-size:13.71px;color:#000;font-weight:bold;transform:scaleX(0.9854);">Camera</span><span class="t" id="d3" style="left:38.68px;top:322px;font-size:13.71px;color:#000;font-weight:bold;transform:scaleX(0.9951);">HD IP Camera</span><span class="t" id="d4" style="left:290.04px;top:250px;font-size:14.29px;color:#000;font-weight:bold;transform:scaleX(0.9444);">Switch</span><span class="t" id="d5" style="left:417.88px;top:225px;font-size:13.71px;color:#000;font-weight:bold;transform:scaleX(0.9780);">Facial Recognition</span><span class="t" id="d6" style="left:417.57px;top:335px;font-size:15.43px;color:#000;font-weight:bold;transform:scaleX(1.0691);">AcuSense NVR</span><span class="t" id="d7" style="left:630.18px;top:337px;font-size:13.71px;color:#000;font-weight:bold;transform:scaleX(0.9672);">Display</span><span class="t" id="d8" style="left:346.98px;top:147px;font-size:13.71px;color:#eaf2fb;transform:scaleX(1.0015);">VMS</span><span class="t" id="l1" style="left:575.67px;top:134px;font-size:7.14px;color:#222;font-weight:bold;transform:scaleX(0.9957);">Network Cable</span><span class="t" id="l2" style="left:576.35px;top:152px;font-size:7.43px;color:#222;font-weight:bold;transform:scaleX(0.9710);">HDMI/VGA Cable</span><span class="t" id="r1" style="left:741.53px;top:222px;font-size:12.86px;color:#000;font-weight:bold;transform:scaleX(0.9518);">Face Comparisom</span><span class="t" id="r2" style="left:744.15px;top:242px;font-size:12.57px;color:#5a5a5a;transform:scaleX(1.0190);">List Alarm</span><span class="t" id="r3" style="left:744.15px;top:260px;font-size:12.57px;color:#5a5a5a;transform:scaleX(1.0204);">Stranger Alarm</span><span class="t" id="r4" style="left:744.15px;top:279px;font-size:12.57px;color:#5a5a5a;transform:scaleX(0.9894);">Face attendance</span><span class="t" id="r5" style="left:741.65px;top:316px;font-size:12.57px;color:#000;font-weight:bold;transform:scaleX(0.9989);">Intelligent Search</span><span class="t" id="r6" style="left:744.15px;top:334px;font-size:12.57px;color:#5a5a5a;transform:scaleX(1.0096);">Search by picture</span><span class="t" id="r7" style="left:744.15px;top:353px;font-size:12.57px;color:#5a5a5a;transform:scaleX(0.9882);">Search by name</span><span class="t" id="ta0" style="left:111.76px;top:450px;font-size:14.00px;color:#000;font-weight:bold;transform:scaleX(1.0425);">Английский язык</span><span class="t" id="tb0" style="left:441.96px;top:450px;font-size:14.00px;color:#000;font-weight:bold;transform:scaleX(1.0190);">Русский язык</span><span class="t" id="ta1" style="left:111.76px;top:477px;font-size:14.00px;color:#000;transform:scaleX(1.0579);">Face capture camera</span><span class="t" id="tb1" style="left:441.96px;top:477px;font-size:14.00px;color:#000;transform:scaleX(1.0897);">Камера с функцией захвата изображений лиц</span><span class="t" id="ta2" style="left:111.76px;top:503px;font-size:14.00px;color:#000;transform:scaleX(1.0398);">HD IP camera</span><span class="t" id="tb2" style="left:441.96px;top:503px;font-size:14.00px;color:#000;transform:scaleX(1.0522);">HD IP-камера</span><span class="t" id="ta3" style="left:111.76px;top:530px;font-size:14.00px;color:#000;transform:scaleX(1.0855);">Switch</span><span class="t" id="tb3" style="left:441.96px;top:530px;font-size:14.00px;color:#000;transform:scaleX(1.0890);">Переключатель</span><span class="t" id="ta4" style="left:111.76px;top:557px;font-size:14.00px;color:#000;transform:scaleX(1.0822);">Facial recognition</span><span class="t" id="tb4" style="left:441.96px;top:557px;font-size:14.00px;color:#000;transform:scaleX(1.0846);">Распознавание лиц</span><span class="t" id="ta5" style="left:111.76px;top:584px;font-size:14.00px;color:#000;transform:scaleX(1.0121);">AcuSense NVR</span><span class="t" id="tb5" style="left:441.96px;top:584px;font-size:14.00px;color:#000;transform:scaleX(1.0599);">Видеорегистратор AcuSense</span><span class="t" id="ta6" style="left:111.76px;top:611px;font-size:14.00px;color:#000;transform:scaleX(1.0622);">Display</span><span class="t" id="tb6" style="left:441.96px;top:611px;font-size:14.00px;color:#000;transform:scaleX(1.0775);">Экран</span><span class="t" id="ta7" style="left:111.76px;top:637px;font-size:14.00px;color:#000;transform:scaleX(1.0612);">Face comparison</span><span class="t" id="tb7" style="left:441.96px;top:637px;font-size:14.00px;color:#000;transform:scaleX(1.0997);">Сравнение изображений лиц</span><span class="t" id="ta8" style="left:111.76px;top:664px;font-size:14.00px;color:#000;transform:scaleX(1.0720);">List alarm</span><span class="t" id="tb8" style="left:441.96px;top:664px;font-size:14.00px;color:#000;transform:scaleX(1.0848);">Тревога черного списка</span><span class="t" id="ta9" style="left:111.76px;top:691px;font-size:14.00px;color:#000;transform:scaleX(1.0806);">Stranger alarm</span><span class="t" id="tb9" style="left:441.96px;top:691px;font-size:14.00px;color:#000;transform:scaleX(1.0814);">Тревога «Неизвестное лицо»</span><span class="t" id="ta10" style="left:111.76px;top:718px;font-size:14.00px;color:#000;transform:scaleX(1.0687);">Face attendance</span><span class="t" id="tb10" style="left:441.96px;top:718px;font-size:14.00px;color:#000;transform:scaleX(1.0742);">УРВ и распознавание лиц</span><span class="t" id="ta11" style="left:111.76px;top:745px;font-size:14.00px;color:#000;transform:scaleX(1.0994);">Intelligent search</span><span class="t" id="tb11" style="left:441.96px;top:745px;font-size:14.00px;color:#000;transform:scaleX(1.0919);">Интеллектуальный поиск</span>
</body></html>
